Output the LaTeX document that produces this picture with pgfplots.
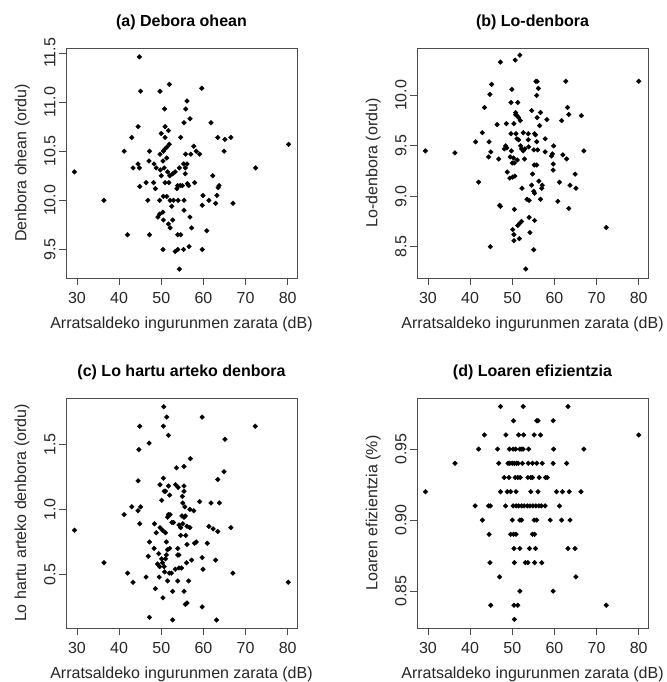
\documentclass[border=0pt]{standalone}
\usepackage{fontspec}
\setmainfont{Liberation Sans}
\usepackage{pgfplots}
\pgfplotsset{compat=1.18}
\pgfplotsset{
 rplot/.style={
  scale only axis, width=231pt, height=230pt,
  axis line style={black!70, line width=0.8pt},
  tick align=outside, major tick length=7pt,
  tick style={black!70, line width=0.8pt},
  xtick={30,40,...,80}, xmin=27.4, xmax=82.2,
  xtick pos=left, ytick pos=left,
  /pgf/number format/assume math mode=true,
  tick label style={font=\fontsize{16}{19}\selectfont, text=black!85},
  xticklabel style={yshift=-4pt},
  every axis title/.style={at={(axis description cs:0.5,1.113)}, anchor=center, font=\fontsize{16}{19}\selectfont\bfseries},
  every axis x label/.style={at={(axis description cs:0.5,-0.2)}, anchor=center, font=\fontsize{16}{19}\selectfont, text=black!85},
  every axis y label/.style={at={(axis description cs:-0.19,0.5)}, rotate=90, anchor=center, font=\fontsize{16}{19}\selectfont, text=black!85},
  yticklabel style={rotate=90, anchor=south},
  xlabel={Arratsaldeko ingurunmen zarata (dB)},
 },
 pts/.style={only marks, mark=square*, mark size=1.65pt, mark options={rotate=45}, black},
}
\begin{document}
\begin{tikzpicture}
% (a)
\begin{axis}[rplot, at={(66pt,404pt)}, anchor=south west,
  title={(a) Debora ohean}, ylabel={Denbora ohean (ordu)},
  ymin=9.21, ymax=11.55, ytick={9.5,10,...,11.5},
  yticklabel style={/pgf/number format/.cd, fixed, fixed zerofill, precision=1}]
\addplot[pts] coordinates {(44.8,11.46)(45.1,11.11)(49.7,11.11)(51.9,11.18)(59.6,11.14)(56.1,11.01)(50.8,10.93)(55.8,10.93)(56.8,10.83)(55.4,10.79)(61.8,10.79)(44.5,10.75)(50.9,10.75)(51.7,10.71)(50.0,10.68)(43.0,10.64)(50.9,10.64)(54.6,10.64)(63.4,10.64)(65.1,10.62)(66.5,10.64)(80.2,10.57)(51.9,10.57)(51.3,10.54)(50.8,10.52)(57.7,10.55)(41.2,10.50)(47.2,10.50)(58.3,10.50)(59.1,10.47)(50.5,10.50)(49.7,10.47)(55.8,10.47)(57.0,10.47)(64.9,10.50)(51.3,10.43)(50.4,10.40)(47.1,10.40)(44.5,10.37)(44.8,10.33)(43.3,10.33)(48.3,10.37)(48.8,10.33)(55.3,10.37)(56.1,10.37)(55.7,10.33)(50.7,10.33)(49.8,10.31)(54.3,10.33)(72.4,10.33)(29.4,10.29)(51.5,10.29)(53.3,10.29)(50.0,10.25)(52.0,10.25)(52.7,10.27)(55.7,10.27)(62.2,10.25)(46.4,10.18)(48.2,10.18)(50.9,10.18)(51.8,10.18)(56.2,10.17)(57.9,10.18)(44.9,10.14)(53.9,10.15)(54.5,10.15)(55.0,10.15)(56.5,10.15)(63.7,10.15)(63.5,10.13)(48.6,10.12)(53.7,10.12)(59.9,10.05)(63.2,10.05)(36.4,10.00)(46.8,10.00)(49.6,10.00)(50.5,10.04)(51.3,10.04)(52.1,10.00)(52.9,10.00)(54.0,10.00)(55.4,10.00)(52.5,9.94)(61.3,10.00)(59.7,9.95)(62.9,9.97)(67.0,9.97)(55.4,9.90)(50.4,9.88)(49.6,9.86)(49.2,9.83)(56.8,9.83)(50.5,9.80)(52.7,9.80)(51.7,9.76)(52.1,9.72)(57.2,9.72)(60.8,9.69)(42.0,9.65)(47.2,9.65)(53.9,9.65)(54.6,9.65)(50.4,9.50)(53.3,9.48)(53.9,9.50)(55.3,9.50)(56.6,9.53)(59.7,9.50)(54.3,9.30)};
\end{axis}
% (b)
\begin{axis}[rplot, at={(417pt,404pt)}, anchor=south west,
  title={(b) Lo-denbora}, ylabel={Lo-denbora (ordu)},
  ymin=8.19, ymax=10.47, ytick={8.5,9,...,10},
  yticklabel style={/pgf/number format/.cd, fixed, fixed zerofill, precision=1}]
\addplot[pts] coordinates {(51.8,10.40)(50.7,10.35)(47.2,10.33)(55.9,10.14)(55.6,10.14)(62.7,10.14)(80.0,10.14)(56.2,10.07)(45.1,10.11)(49.9,10.06)(44.7,10.01)(55.8,10.00)(49.7,9.93)(51.3,9.93)(43.4,9.88)(54.6,9.85)(50.8,9.83)(56.7,9.83)(63.1,9.88)(63.4,9.81)(66.4,9.80)(50.8,9.81)(51.1,9.80)(51.5,9.78)(51.9,9.75)(55.9,9.78)(58.2,9.76)(61.7,9.75)(50.4,9.72)(48.6,9.72)(46.4,9.71)(56.5,9.70)(42.9,9.63)(49.7,9.62)(50.9,9.62)(52.6,9.63)(53.8,9.62)(55.3,9.62)(55.5,9.61)(51.1,9.57)(51.5,9.56)(53.8,9.56)(55.8,9.54)(57.8,9.57)(41.3,9.54)(44.5,9.54)(44.9,9.44)(29.4,9.45)(36.4,9.43)(48.4,9.50)(48.7,9.48)(48.1,9.47)(49.8,9.45)(49.5,9.39)(44.4,9.39)(46.8,9.37)(52.0,9.50)(52.2,9.47)(52.6,9.45)(53.0,9.47)(53.9,9.49)(55.1,9.46)(56.0,9.46)(57.8,9.44)(59.8,9.50)(59.3,9.40)(59.5,9.42)(62.0,9.41)(62.9,9.37)(67.0,9.45)(50.3,9.38)(51.2,9.36)(50.0,9.33)(50.5,9.33)(52.9,9.37)(55.2,9.31)(55.8,9.31)(59.7,9.32)(59.7,9.26)(48.8,9.24)(49.4,9.18)(50.1,9.19)(50.6,9.20)(54.8,9.22)(64.9,9.22)(42.0,9.14)(56.3,9.15)(61.2,9.14)(54.6,9.11)(57.1,9.11)(63.7,9.11)(57.0,9.08)(52.3,9.08)(65.1,9.08)(55.1,9.05)(55.3,9.03)(53.5,8.97)(54.0,8.96)(56.7,8.97)(60.8,8.95)(47.0,8.91)(47.2,8.90)(63.4,8.88)(50.5,8.87)(54.0,8.79)(55.3,8.76)(52.2,8.75)(51.7,8.73)(51.3,8.71)(72.3,8.69)(50.1,8.67)(54.2,8.64)(50.4,8.62)(51.7,8.58)(50.4,8.56)(44.8,8.50)(55.1,8.47)(53.2,8.28)};
\end{axis}
% (c)
\begin{axis}[rplot, at={(66pt,54pt)}, anchor=south west,
  title={(c) Lo hartu arteko denbora}, ylabel={Lo hartu arteko denbora (ordu)},
  ymin=0.088, ymax=1.857, ytick={0.5,1,1.5},
  yticklabel style={/pgf/number format/.cd, fixed, fixed zerofill, precision=1}]
\addplot[pts] coordinates {(50.6,1.79)(51.3,1.71)(59.7,1.71)(44.9,1.64)(50.5,1.64)(72.3,1.64)(51.7,1.57)(65.1,1.54)(47.1,1.51)(44.7,1.46)(56.9,1.39)(55.4,1.33)(53.6,1.32)(64.9,1.29)(63.4,1.23)(50.5,1.24)(44.5,1.22)(49.7,1.19)(51.7,1.18)(53.4,1.19)(54.0,1.17)(55.4,1.18)(55.4,1.14)(50.7,1.14)(51.0,1.14)(52.0,1.11)(55.0,1.10)(50.1,1.07)(59.1,1.06)(61.8,1.05)(63.8,1.05)(55.1,1.05)(55.6,1.02)(56.8,1.00)(57.7,0.99)(43.0,1.02)(45.1,1.02)(44.5,0.99)(41.2,0.96)(51.7,0.96)(52.1,0.96)(51.5,0.94)(54.9,0.95)(55.4,0.94)(55.7,0.95)(29.4,0.84)(44.9,0.89)(48.4,0.89)(52.5,0.90)(52.9,0.90)(54.2,0.88)(55.1,0.89)(56.1,0.87)(56.8,0.86)(49.7,0.86)(50.3,0.84)(48.8,0.82)(51.0,0.82)(54.6,0.86)(61.3,0.87)(62.3,0.85)(63.4,0.83)(66.5,0.86)(54.6,0.80)(55.8,0.80)(47.2,0.75)(51.2,0.75)(56.1,0.73)(57.9,0.74)(58.3,0.75)(60.9,0.74)(48.3,0.70)(52.0,0.70)(53.9,0.70)(51.5,0.69)(49.4,0.66)(51.2,0.65)(53.9,0.65)(54.2,0.65)(46.9,0.64)(51.0,0.62)(50.1,0.62)(59.7,0.63)(62.9,0.61)(57.2,0.61)(50.3,0.59)(56.0,0.59)(36.4,0.59)(49.1,0.58)(49.6,0.56)(50.7,0.56)(54.8,0.55)(54.2,0.55)(53.3,0.54)(59.9,0.54)(50.8,0.52)(51.9,0.51)(52.4,0.51)(67.0,0.51)(42.0,0.51)(43.3,0.44)(46.4,0.48)(49.5,0.48)(51.5,0.45)(53.9,0.45)(56.5,0.45)(80.1,0.44)(48.6,0.39)(52.7,0.37)(55.4,0.37)(50.4,0.32)(56.1,0.28)(55.7,0.27)(59.7,0.25)(47.2,0.17)(52.7,0.15)(63.1,0.15)};
\end{axis}
% (d)
\begin{axis}[rplot, at={(417pt,54pt)}, anchor=south west,
  title={(d) Loaren efizientzia}, ylabel={Loaren efizientzia (\%)},
  ymin=0.824, ymax=0.986, ytick={0.85,0.90,0.95},
  yticklabel style={/pgf/number format/.cd, fixed, fixed zerofill, precision=2}]
\addplot[pts] coordinates {(47.2,0.98)(52.6,0.98)(63.2,0.98)
(50.3,0.97)(55.8,0.97)(56.1,0.97)(59.7,0.97)
(43.4,0.96)(48.5,0.96)(51.5,0.96)(52.7,0.96)(55.2,0.96)(56.7,0.96)(80.0,0.96)
(42.0,0.95)(46.5,0.95)(49.3,0.95)(50.2,0.95)(50.8,0.95)(51.8,0.95)(52.3,0.95)(52.6,0.95)(53.9,0.95)(59.8,0.95)(67.0,0.95)
(36.4,0.94)(46.8,0.94)(49.0,0.94)(49.4,0.94)(50.0,0.94)(50.5,0.94)(51.0,0.94)(51.4,0.94)(52.4,0.94)(53.8,0.94)(54.8,0.94)(55.8,0.94)(57.1,0.94)(59.7,0.94)(62.9,0.94)
(48.1,0.93)(49.2,0.93)(50.7,0.93)(51.3,0.93)(51.9,0.93)(53.7,0.93)(54.4,0.93)(54.8,0.93)(56.4,0.93)(57.9,0.93)(58.3,0.93)
(29.4,0.92)(47.2,0.92)(48.8,0.92)(49.6,0.92)(50.9,0.92)(54.4,0.92)(56.1,0.92)(60.5,0.92)(61.9,0.92)(63.5,0.92)(66.3,0.92)
(41.2,0.91)(44.4,0.91)(44.8,0.91)(48.4,0.91)(50.2,0.91)(50.9,0.91)(51.5,0.91)(52.2,0.91)(52.8,0.91)(53.6,0.91)(54.2,0.91)(54.9,0.91)(55.6,0.91)(56.3,0.91)(56.9,0.91)(57.8,0.91)(61.2,0.91)
(42.9,0.90)(50.0,0.90)(51.8,0.90)(52.2,0.90)(55.2,0.90)(55.8,0.90)(59.0,0.90)(61.7,0.90)(63.7,0.90)
(44.5,0.89)(49.6,0.89)(50.3,0.89)(50.9,0.89)(54.8,0.89)(55.3,0.89)
(50.4,0.88)(51.8,0.88)(54.1,0.88)(55.5,0.88)(63.2,0.88)(64.9,0.88)
(44.7,0.87)(50.5,0.87)(53.1,0.87)(53.7,0.87)(55.3,0.87)(57.0,0.87)
(47.0,0.86)(65.1,0.86)(51.8,0.85)(59.7,0.85)
(44.9,0.84)(50.4,0.84)(51.3,0.84)(72.3,0.84)(50.5,0.83)};
\end{axis}
\pgfresetboundingbox
\path (0,0) rectangle (666pt,682pt);
\end{tikzpicture}
\end{document}
